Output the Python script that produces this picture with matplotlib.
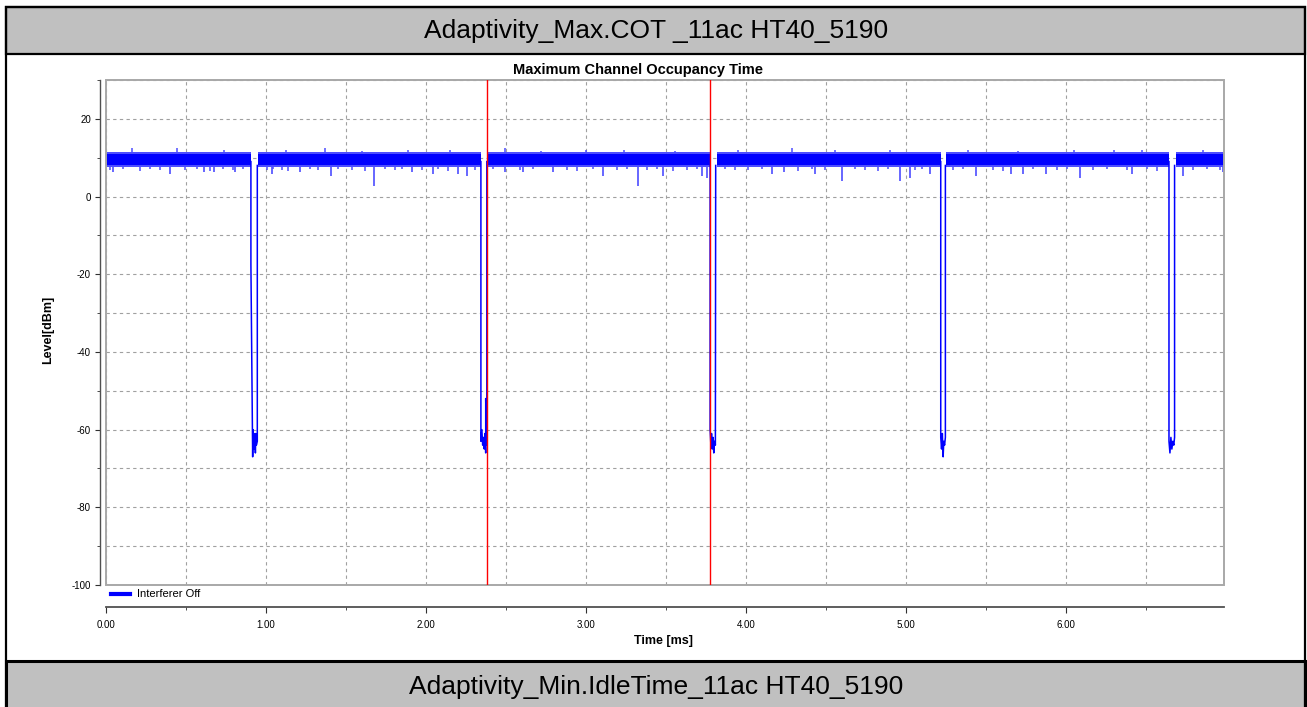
import matplotlib
matplotlib.use("Agg")
import matplotlib.pyplot as plt
from matplotlib.patches import Rectangle
from matplotlib.ticker import MultipleLocator, FormatStrFormatter

plt.rcParams['font.family'] = ['Liberation Sans', 'DejaVu Sans']
plt.rcParams['axes.unicode_minus'] = False

# ---------------- data ----------------
header_top = "Adaptivity_Max.COT _11ac HT40_5190"
header_bottom = "Adaptivity_Min.IdleTime_11ac HT40_5190"
chart_title = "Maximum Channel Occupancy Time"
x_label = "Time [ms]"
y_label = "Level[dBm]"
series_label = "Interferer Off"

# transmission (on) periods, ms
on_start = [0.000, 0.952, 2.389, 3.818, 5.254, 6.688]
on_end = [0.904, 2.344, 3.776, 5.219, 6.646, 6.990]
band_core_low, band_core_high = 8.2, 10.9
band_fuzz_low, band_fuzz_high = 7.5, 11.4

# large downward noise spikes (time ms, level dBm)
spike_down_t = [0.044, 0.400, 0.613, 0.675, 0.806, 1.038, 1.213, 1.406, 1.675,
                1.913, 2.044, 2.200, 2.256, 2.494, 2.606, 2.794, 3.106, 3.325,
                3.481, 3.725, 3.756, 4.163, 4.238, 4.431, 4.600, 4.963, 5.025,
                5.150, 5.438, 5.656, 5.731, 5.875, 6.088, 6.413, 6.731, 6.981]
spike_down_v = [6.4, 5.7, 6.2, 6.4, 6.2, 5.7, 6.2, 5.2, 2.8,
                6.2, 5.9, 5.7, 5.2, 6.2, 6.4, 6.2, 5.4, 2.6,
                5.2, 5.4, 4.9, 5.7, 6.2, 5.7, 3.9, 3.9, 4.9,
                5.9, 5.2, 5.7, 5.7, 5.7, 4.9, 5.9, 5.4, 6.4]
# small downward noise spikes
small_down_t = [0.025, 0.106, 0.213, 0.275, 0.338, 0.494, 0.569, 0.650, 0.731, 0.794,
                0.856, 1.006, 1.044, 1.100, 1.138, 1.275, 1.325, 1.450, 1.538, 1.619,
                1.744, 1.806, 1.850, 1.975, 2.075, 2.138, 2.306, 2.419, 2.588, 2.669,
                2.881, 2.944, 3.044, 3.194, 3.256, 3.381, 3.444, 3.544, 3.631, 3.694,
                3.869, 3.931, 4.013, 4.100, 4.325, 4.413, 4.494, 4.681, 4.744, 4.825,
                4.888, 5.056, 5.100, 5.294, 5.356, 5.544, 5.606, 5.794, 5.944, 6.006,
                6.169, 6.256, 6.381, 6.506, 6.569, 6.794, 6.881, 6.963]
small_down_v = [6.9, 7.0, 6.7, 7.1, 6.8, 6.9, 7.0, 6.6, 7.1, 6.9,
                7.0, 6.8, 7.1, 6.9, 6.7, 7.0, 6.8, 7.1, 6.9, 6.6,
                7.0, 6.8, 7.1, 6.9, 7.0, 6.7, 6.9, 7.0, 6.8, 7.1,
                6.9, 6.7, 7.0, 6.8, 7.1, 6.9, 7.0, 6.6, 6.9, 7.0,
                7.1, 6.9, 6.8, 7.0, 6.7, 7.1, 6.9, 7.0, 6.8, 6.6,
                7.0, 6.9, 7.1, 6.8, 7.0, 6.9, 6.7, 7.1, 6.9, 7.0,
                6.8, 7.1, 6.9, 7.0, 6.7, 6.9, 7.0, 6.8]
# upward noise spikes
spike_up_t = [0.163, 0.444, 0.740, 1.125, 1.369, 1.600, 1.890, 2.150, 2.494, 2.720,
              3.000, 3.240, 3.560, 3.950, 4.288, 4.560, 4.900, 5.388, 5.700, 6.050,
              6.300, 6.475, 6.860]
spike_up_v = [12.4, 12.4, 11.9, 12.0, 12.6, 11.8, 12.0, 11.9, 12.4, 11.8,
              12.0, 11.9, 11.8, 12.0, 12.4, 11.9, 12.0, 11.9, 11.8, 12.0,
              11.9, 12.1, 11.9]

# gaps (idle periods) traces
dip1_t = [0.906, 0.906, 0.917, 0.919, 0.922, 0.925, 0.928, 0.931, 0.934, 0.937, 0.940, 0.946, 0.946]
dip1_v = [9, -17.5, -67, -60, -64, -61, -65, -62, -66, -61, -64, -63, 8]
dip2_t = [2.344, 2.344, 2.350, 2.355, 2.360, 2.365, 2.370, 2.374, 2.374, 2.378, 2.381, 2.381]
dip2_v = [9, -63, -60, -64, -62, -65, -61, -66, -52, -64, -62, 9]
dip3_t = [3.777, 3.777, 3.782, 3.786, 3.790, 3.795, 3.800, 3.805, 3.810, 3.812]
dip3_v = [9, -60, -64, -61, -65, -62, -66, -63, -64, 8]
dip4_t = [5.219, 5.219, 5.224, 5.229, 5.234, 5.238, 5.243, 5.248, 5.248]
dip4_v = [9, -62, -65, -61, -67, -63, -64, -62, 8]
dip5_t = [6.646, 6.646, 6.652, 6.658, 6.664, 6.670, 6.676, 6.681, 6.681]
dip5_v = [9, -63, -66, -62, -65, -63, -64, -62, 8]
dips_t = [dip1_t, dip2_t, dip3_t, dip4_t, dip5_t]
dips_v = [dip1_v, dip2_v, dip3_v, dip4_v, dip5_v]

# marker lines (ms)
marker_t = [2.381, 3.777]

x_min, x_max = 0.0, 6.99
y_min, y_max = -100, 30

# ---------------- layout ----------------
W, H = 1307, 707
fig = plt.figure(figsize=(W / 100, H / 100), dpi=100)


def fx(px):
    return px / W


def fy(py):
    return 1 - py / H


BLUE = (0, 0, 1)
GREY_BAND = '#c0c0c0'
NOISE = (0.3, 0.3, 1.0)

# outer frame and header bands
fig.add_artist(Rectangle((fx(6), fy(720)), fx(1305) - fx(6), fy(7) - fy(720),
                         transform=fig.transFigure, facecolor='none',
                         edgecolor='black', lw=1.6, zorder=2))
fig.add_artist(Rectangle((fx(6), fy(54)), fx(1305) - fx(6), fy(7) - fy(54),
                         transform=fig.transFigure, facecolor=GREY_BAND,
                         edgecolor='black', lw=1.6, zorder=1))
fig.add_artist(Rectangle((fx(6), fy(720)), fx(1305) - fx(6), fy(661) - fy(720),
                         transform=fig.transFigure, facecolor=GREY_BAND,
                         edgecolor='black', lw=2.2, zorder=1))
fig.text(fx(656), fy(31), header_top, ha='center', va='center', fontsize=19)
fig.text(fx(656), fy(687), header_bottom, ha='center', va='center', fontsize=19)

# plot area
L, R, T, B = 106, 1224, 80, 585
ax = fig.add_axes([fx(L), fy(B), (R - L) / W, (B - T) / H])
ax.set_xlim(x_min, x_max)
ax.set_ylim(y_min, y_max)

for s in ['top', 'right']:
    ax.spines[s].set_visible(False)
ax.spines['left'].set_position(('outward', 6 * 0.72))
ax.spines['bottom'].set_position(('outward', 22 * 0.72))
ax.spines['left'].set_color('#505050')
ax.spines['bottom'].set_color('#505050')
ax.spines['left'].set_linewidth(1.0)
ax.spines['bottom'].set_linewidth(1.3)
ax.add_patch(Rectangle((0, 0), 1, 1, transform=ax.transAxes, fill=False,
                       edgecolor='#a8a8a8', lw=1.4, clip_on=False, zorder=5))

ax.xaxis.set_major_locator(MultipleLocator(1))
ax.xaxis.set_minor_locator(MultipleLocator(0.5))
ax.xaxis.set_major_formatter(FormatStrFormatter('%.2f'))
ax.yaxis.set_major_locator(MultipleLocator(20))
ax.yaxis.set_minor_locator(MultipleLocator(10))
ax.tick_params(axis='both', which='major', labelsize=7, color='#303030',
               direction='out')
ax.tick_params(axis='x', which='major', length=4.3, pad=5)
ax.tick_params(axis='x', which='minor', length=2.2, color='#303030')
ax.tick_params(axis='y', which='major', length=3.6, pad=3)
ax.tick_params(axis='y', which='minor', length=2.2, color='#303030')

ax.set_axisbelow(True)
ax.grid(which='both', color='#a0a0a0', linestyle=(0, (3, 3)), lw=0.8)

# noise band
for s, e in zip(on_start, on_end):
    ax.fill_between([s, e], band_fuzz_low, band_fuzz_high, color=NOISE,
                    lw=0, zorder=2)
    ax.fill_between([s, e], band_core_low, band_core_high, color=BLUE, lw=0, zorder=3)
ax.vlines(small_down_t, band_core_low, small_down_v, color=NOISE, lw=1.1, zorder=3)
ax.vlines(spike_down_t, band_core_low, spike_down_v, color=NOISE, lw=1.2, zorder=3)
ax.vlines(spike_up_t, band_core_high, spike_up_v, color=NOISE, lw=1.1, zorder=3)

# idle gaps
for i, (t, v) in enumerate(zip(dips_t, dips_v)):
    ax.plot(t, v, color=BLUE, lw=1.1, zorder=4, label=series_label if i == 0 else None)

# markers
for m in marker_t:
    ax.axvline(m, color='red', lw=1.0, zorder=6)

leg = ax.legend(loc='upper left', bbox_to_anchor=(0.0, 0.001), frameon=False,
                fontsize=8, handlelength=1.75, handletextpad=0.55,
                borderpad=0.15, borderaxespad=0.3)
for h in leg.legend_handles:
    h.set_linewidth(3)

fig.text(fx(638), fy(70), chart_title, ha='center', va='center', fontsize=10.5,
         fontweight='bold')
fig.text(fx(664), fy(641), x_label, ha='center', va='center', fontsize=9,
         fontweight='bold')
fig.text(fx(48), fy(330), y_label, ha='center', va='center', fontsize=9,
         fontweight='bold', rotation=90)

fig.savefig('out.png', dpi=100)
